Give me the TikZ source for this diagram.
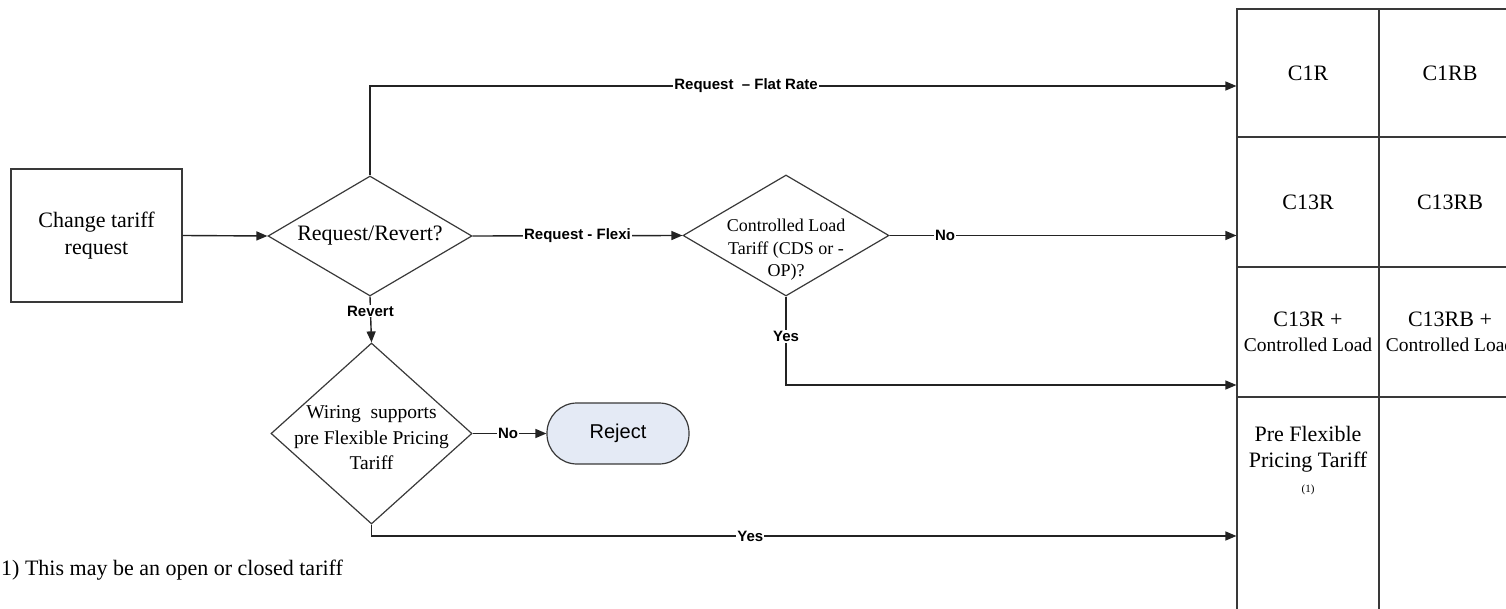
\documentclass[tikz,border=0pt]{standalone}
\usepackage{fontspec}
\setmainfont{Liberation Serif}
\newfontfamily\lblfont{Liberation Sans}
\usetikzlibrary{shapes.geometric,arrows.meta}
\definecolor{rejfill}{RGB}{228,234,245}
\definecolor{ink}{RGB}{35,35,35}
\begin{document}
\begin{tikzpicture}[x=1pt,y=-1pt,
  conn/.style={draw=ink, line width=1.4pt},
  arr/.style={conn, -{Triangle[length=11pt,width=9pt]}},
  outline/.style={draw=ink!90, line width=1.2pt},
  dia/.style={outline, diamond, inner sep=0pt},
  lbl/.style={fill=white, inner sep=1pt, font=\lblfont\bfseries\fontsize{15}{17}\selectfont},
  serif22/.style={font=\fontsize{22}{27}\selectfont, align=center},
  cell/.style={outline, rectangle, minimum width=142pt, minimum height=130pt, inner sep=0pt, align=center, font=\fontsize{22}{25}\selectfont}
]
\useasboundingbox (0,0) rectangle (1506,609);
\clip (0,0) rectangle (1506,609);

% start box
\node[outline, rectangle, minimum width=171pt, minimum height=133pt, serif22] (start) at (96.5,235.5) {Change tariff\\request};

% decision diamonds
\node[dia, minimum width=204pt, minimum height=120pt] (rr) at (370,236) {};
\node[serif22] (rrt) at (rr.center) {Request/Revert?};

\node[dia, minimum width=206pt, minimum height=121pt] (cl) at (786,235.5) {};
\node[align=center, font=\fontsize{18}{22.5}\selectfont] (clt) at (786,250) {Controlled Load\\Tariff (CDS or -\\OP)?};

\node[dia, minimum width=201pt, minimum height=181pt] (wr) at (371.5,433.5) {};
\node[align=center, font=\fontsize{19.5}{25.5}\selectfont] (wrt) at (371.5,438) {Wiring\ \ supports\\pre Flexible Pricing\\Tariff};

% reject terminator
\node[outline, fill=rejfill, rounded corners=30pt, minimum width=142pt, minimum height=61pt, font=\lblfont\fontsize{20}{24}\selectfont] (rej) at (618,433.5) {Reject};

% tariff table
\node[cell, minimum height=128pt] (c1r) at (1308,73) {C1R};
\node[cell, minimum height=128pt] (c1rb) at (1450,73) {C1RB};
\node[cell] (c13r) at (1308,202) {C13R};
\node[cell] (c13rb) at (1450,202) {C13RB};
\node[cell] (c13rl) at (1308,332) {C13R +\\{\fontsize{19.5}{25}\selectfont Controlled Load}};
\node[cell] (c13rbl) at (1450,332) {C13RB +\\{\fontsize{19.5}{25}\selectfont Controlled Load}};
\node[cell, minimum height=230pt] (pre) at (1308,512) {};
\node[cell, minimum height=230pt] (preb) at (1450,512) {};
\node[align=center, font=\fontsize{22}{25.5}\selectfont] (pret) at (1308,461) {Pre Flexible\\Pricing Tariff\\{\fontsize{11}{13}\selectfont (1)}};

% footnote
\node[anchor=west, inner sep=1pt, font=\fontsize{22}{26}\selectfont] (note) at (0,570) {1) This may be an open or closed tariff};

% connectors
\draw[arr] (start.east) -- (rr.west);
\draw[arr] (rr.north) |- node[lbl, pos=0.717] {Request\ \ – Flat Rate} ([yshift=-13pt]c1r.west);
\draw[arr] (rr.east) -- node[lbl, pos=0.5] {Request - Flexi} (cl.west);
\draw[arr] (cl.east) -- node[lbl, pos=0.16] {No} (cl.east -| c13r.west);
\draw[arr] (cl.south) |- node[lbl, pos=0.225] {Yes} ([yshift=-53pt]c13rl.west);
\draw[arr] (rr.south) -- node[lbl, pos=0.32] {Revert} (wr.north);
\draw[arr] (wr.east) -- node[lbl, pos=0.48] {No} (rej.west);
\draw[arr] (wr.south) |- node[lbl, pos=0.719] {Yes} ([yshift=-24pt]pre.west);
\end{tikzpicture}
\end{document}
